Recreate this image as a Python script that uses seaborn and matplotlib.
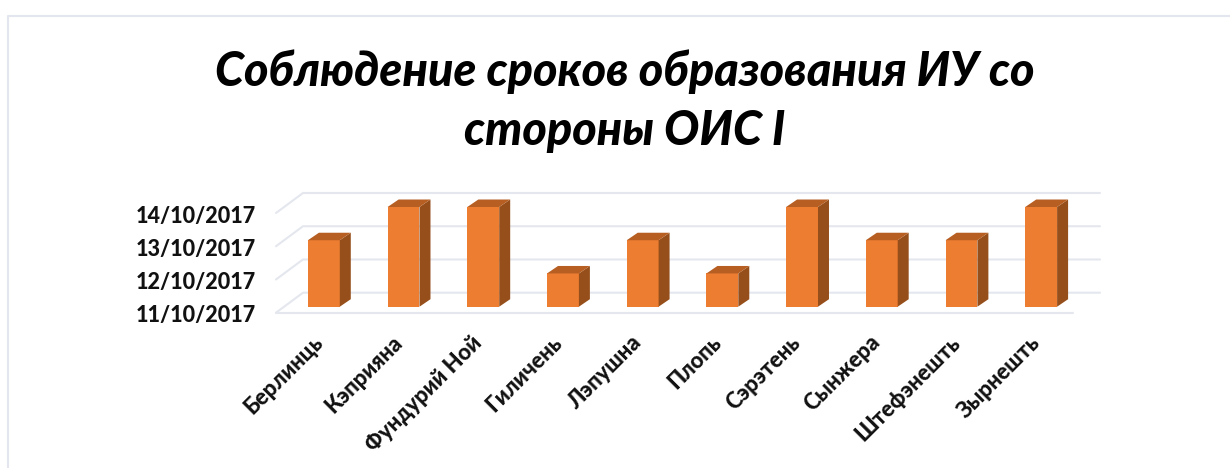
import matplotlib
matplotlib.use("Agg")
import matplotlib.pyplot as plt
import matplotlib.transforms as mtrans
from matplotlib.lines import Line2D
from matplotlib.patches import Polygon
import pandas as pd
import seaborn as sns

villages = ["Берлинць", "Кэприяна", "Фундурий Ной", "Гиличень", "Лэпушна",
            "Плопь", "Сэрэтень", "Сынжера", "Штефэнешть", "Зырнешть"]
dates = ["13/10/2017", "14/10/2017", "14/10/2017", "12/10/2017", "13/10/2017",
         "12/10/2017", "14/10/2017", "13/10/2017", "13/10/2017", "14/10/2017"]
date_ticks = ["11/10/2017", "12/10/2017", "13/10/2017", "14/10/2017"]
title = "Соблюдение сроков образования ИУ со\nстороны ОИС I"

W, H = 1230, 468
FRONT = "#ED7D31"
TOP = "#B75F22"
SIDE = "#964F1B"
GRID = "#E4E7EE"
FRAME = "#E3E6EE"
PIXELS = mtrans.IdentityTransform()

sns.set_theme(style="white")
plt.rcParams["font.family"] = ["Lato", "DejaVu Sans"]

# days since the first tick, this is what the bars show
parsed = pd.to_datetime(dates, format="%d/%m/%Y")
start = pd.to_datetime(date_ticks[0], format="%d/%m/%Y")
df = pd.DataFrame({"village": villages, "days": (parsed - start).days})

fig = plt.figure(figsize=(W / 100, H / 100), dpi=100)
ax = fig.add_axes([284 / W, 1 - 306.7 / H, 797 / W, 99.7 / H])
ax.patch.set_alpha(0)

sns.barplot(data=df, x="village", y="days", color=FRONT, saturation=1,
            width=0.4, linewidth=0, ax=ax, zorder=3)
ax.set_xlim(-0.5, len(villages) - 0.5)
ax.set_ylim(0, len(date_ticks) - 1)
ax.set_xlabel("")
ax.set_ylabel("")
sns.despine(ax=ax, left=True, bottom=True)

# ---------------------------------
# WALL AND FLOOR LINES
# ---------------------------------
xmin, xmax = ax.get_xlim()
for v in range(len(date_ticks)):
    a = ax.transData.transform((xmin, v)) + (-8, -6)
    b = ax.transData.transform((xmin, v)) + (19, 14)
    c = ax.transData.transform((xmax, v)) + (19, 14)
    ax.add_line(Line2D([a[0], b[0], c[0]], [a[1], b[1], c[1]], color=GRID, lw=1.5,
                       zorder=1, clip_on=False, transform=PIXELS))
    if v == 0:
        d = ax.transData.transform((xmax, v)) + (-8, -6)
        ax.add_line(Line2D([a[0], d[0]], [a[1], d[1]], color=GRID, lw=1.5,
                           zorder=1, clip_on=False, transform=PIXELS))

# ---------------------------------
# BAR SIDES
# ---------------------------------
depth = (11, 7.5)
for bar in list(ax.patches):
    x0, x1 = bar.get_x(), bar.get_x() + bar.get_width()
    h = bar.get_height()
    p0 = ax.transData.transform((x1, 0))
    p1 = ax.transData.transform((x1, h))
    p2 = ax.transData.transform((x0, h))
    ax.add_patch(Polygon([p0, p1, p1 + depth, p0 + depth], closed=True, fc=SIDE,
                         ec="none", zorder=3, clip_on=False, transform=PIXELS))
    ax.add_patch(Polygon([p2, p1, p1 + depth, p2 + depth], closed=True, fc=TOP,
                         ec="none", zorder=3, clip_on=False, transform=PIXELS))

# ---------------------------------
# LABELS
# ---------------------------------
ax.set_yticks(range(len(date_ticks)))
ax.set_yticklabels(date_ticks, fontsize=15.5, fontweight=900, color="#111111")
ax.tick_params(axis="y", length=0, pad=20)
for lab in ax.get_yticklabels():
    lab.set_transform(lab.get_transform() + mtrans.Affine2D().translate(0, -7))

ax.set_xticks(range(len(villages)))
ax.set_xticklabels(villages, fontsize=15.8, fontweight=900, color="#111111",
                   rotation=45, ha="right", rotation_mode="anchor")
ax.tick_params(axis="x", length=0, pad=18)
for lab in ax.get_xticklabels():
    lab.set_transform(lab.get_transform() + mtrans.Affine2D().translate(-12, 0))

fig.text(625 / W, 1 - 101 / H, title, ha="center", va="center", fontsize=33.7,
         fontweight=900, fontstyle="italic", color="black", linespacing=1.42)

# screenshot frame
fig.add_artist(Line2D([8 / W, 8 / W, 1], [0, 1 - 16 / H, 1 - 16 / H], color=FRAME, lw=1.5))

fig.savefig("out.png", dpi=100)
plt.close(fig)
